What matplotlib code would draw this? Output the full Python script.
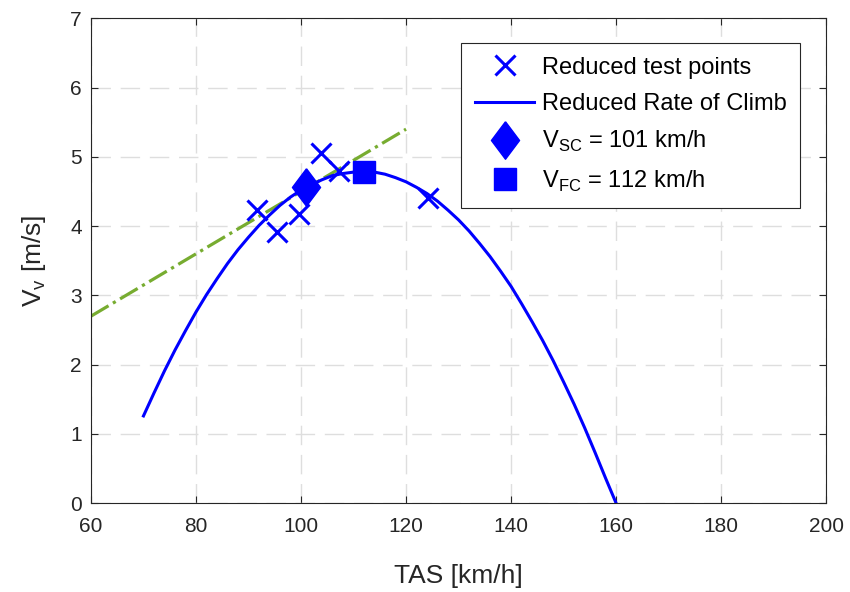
import numpy as np
import matplotlib
matplotlib.use('Agg')
import matplotlib.pyplot as plt

plt.rcParams['font.family'] = ['Liberation Sans', 'DejaVu Sans']
plt.rcParams['mathtext.fontset'] = 'custom'
plt.rcParams['mathtext.rm'] = 'Liberation Sans'

# reduced test points
tas_pts = [91.6, 95.4, 99.6, 103.8, 107.3, 124.2]
vv_pts = [4.24, 3.91, 4.17, 5.06, 4.79, 4.41]

# reduced rate of climb curve (every 2 km/h)
tas_curve = list(range(70, 161, 2))
vv_curve = [1.26, 1.59, 1.91, 2.21, 2.49, 2.76, 3.01, 3.24, 3.46, 3.66,
            3.84, 4.01, 4.16, 4.30, 4.42, 4.52, 4.60, 4.67, 4.73, 4.76,
            4.78, 4.79, 4.78, 4.75, 4.70, 4.64, 4.56, 4.47, 4.36, 4.23,
            4.09, 3.93, 3.75, 3.56, 3.35, 3.13, 2.88, 2.62, 2.35, 2.06,
            1.75, 1.43, 1.09, 0.73, 0.36, 0.0]

# tangent from origin
tas_tan = [60, 120]
vv_tan = [2.7, 5.4]

# best climb speeds
v_sc, vv_sc = 101, 4.56
v_fc, vv_fc = 112, 4.78

blue = (0, 0, 1)
green = (0.466, 0.674, 0.188)
dark = '#262626'

fig = plt.figure(figsize=(8.5, 5.92), dpi=100)
ax = fig.add_axes([0.107, 0.150, 0.865, 0.819])

ax.plot(tas_tan, vv_tan, linestyle='-.', color=green, linewidth=2.3)
h_pts, = ax.plot(tas_pts, vv_pts, linestyle='none', marker='x', color=blue,
                 markersize=14, markeredgewidth=2.2)
h_curve, = ax.plot(tas_curve, vv_curve, color=blue, linewidth=2.2)
diamond = [(0, 1), (0.75, 0), (0, -1), (-0.75, 0), (0, 1)]
h_sc, = ax.plot([v_sc], [vv_sc], linestyle='none', marker=diamond,
                color=blue, markersize=27)
h_fc, = ax.plot([v_fc], [vv_fc], linestyle='none', marker='s',
                color=blue, markersize=16)

ax.set_xlim(60, 200)
ax.set_ylim(0, 7)
ax.set_xticks(np.arange(60, 201, 20))
ax.set_yticks(np.arange(0, 8, 1))
ax.grid(True, linestyle=(0, (14, 7)), color='#dedede', linewidth=1.0)
ax.set_axisbelow(True)
ax.tick_params(direction='in', length=5, width=0.8, colors=dark,
               labelsize=15, top=True, right=True)
ax.tick_params(axis='x', pad=10)
ax.tick_params(axis='y', pad=6.5)
for s in ax.spines.values():
    s.set_color(dark)
    s.set_linewidth(0.8)

ax.set_xlabel('TAS [km/h]', fontsize=19, color=dark, labelpad=20)
ax.set_ylabel(r'V$_\mathregular{v}$ [m/s]', fontsize=19, color=dark,
              labelpad=16)

leg = ax.legend([h_pts, h_curve, h_sc, h_fc],
                ['Reduced test points', 'Reduced Rate of Climb',
                 r'V$_\mathregular{SC}$ = 101 km/h',
                 r'V$_\mathregular{FC}$ = 112 km/h'],
                loc='upper right', bbox_to_anchor=(0.965, 0.95),
                fontsize=17, fancybox=False, framealpha=1,
                edgecolor=dark, handlelength=2.5, handletextpad=0.3,
                labelspacing=0.6, borderpad=0.6, borderaxespad=0)
leg.get_frame().set_linewidth(0.8)

fig.savefig('out.png', dpi=100)
